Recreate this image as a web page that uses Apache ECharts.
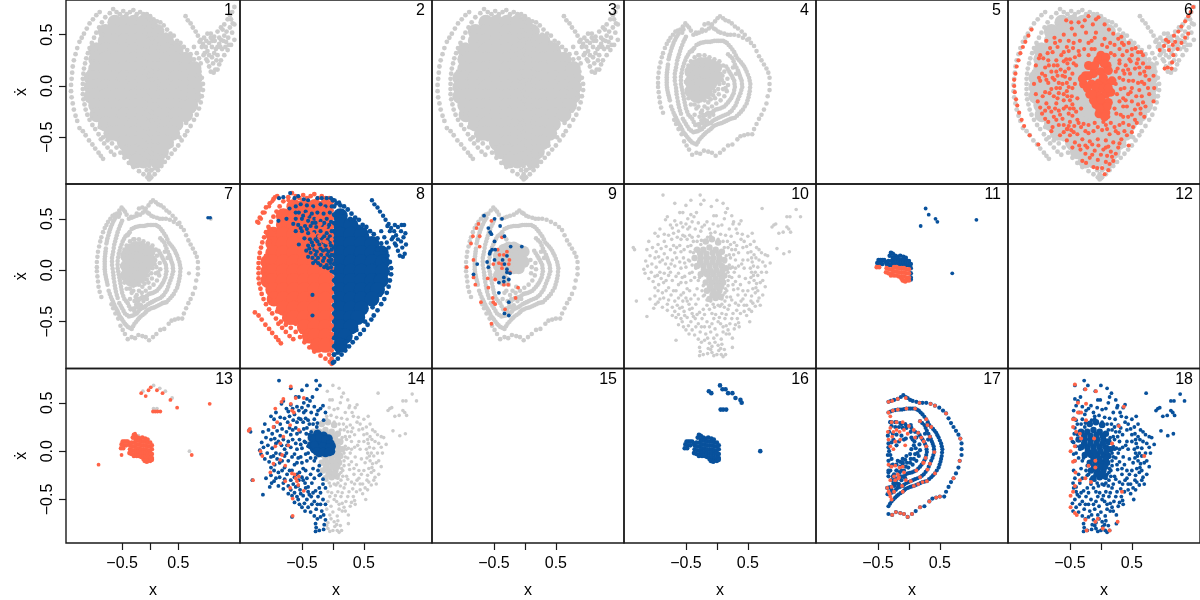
<!DOCTYPE html>
<html>
<head>
<meta charset="utf-8">
<style>html,body{margin:0;background:#fff}#chart{width:1200px;height:600px}</style>
<script src="https://cdn.jsdelivr.net/npm/echarts@6/dist/echarts.min.js"></script>
</head>
<body>
<div id="chart"></div>
<script>
// values, [x, xdot]
const xTicks = [-0.5, 0, 0.5];
const xTickLabels = [-0.5, 0.5];
const yTicks = [-0.5, 0, 0.5];
const panelNames = ['1','2','3','4','5','6','7','8','9','10','11','12','13','14','15','16','17','18'];

// the large filled body: rows of [xdot, x, x, ...]
const blobRows = [
  [.62,-.63,-.46,-.29,-.12],
  [.53,-.80,-.63,-.46,-.29,-.12,.12],
  [.44,-.80,-.63,-.46,-.29,-.12,.12,.29],
  [.35,-.97,-.80,-.63,-.46,-.29,-.12,.12,.29,.46],
  [.26,-.97,-.80,-.63,-.46,-.29,-.12,.12,.29,.46,.63],
  [.17,-.97,-.80,-.63,-.46,-.29,-.12,.12,.29,.46,.63,.78],
  [.08,-1.05,-.97,-.80,-.63,-.46,-.29,-.12,.12,.29,.46,.63,.80],
  [-.01,-1.05,-.97,-.80,-.63,-.46,-.29,-.12,.12,.29,.46,.63,.80],
  [-.10,-1.05,-.97,-.80,-.63,-.46,-.29,-.12,.12,.29,.46,.63,.78],
  [-.19,-.97,-.80,-.63,-.46,-.29,-.12,.12,.29,.46,.63,.72],
  [-.28,-.95,-.80,-.63,-.46,-.29,-.12,.12,.29,.46,.63],
  [-.37,-.80,-.63,-.46,-.29,-.12,.12,.29,.46],
  [-.46,-.70,-.63,-.46,-.29,-.12,.12,.29,.40],
  [-.55,-.46,-.29,-.12,.12,.29],
  [-.64,-.38,-.29,-.12,.12,.20],
  [-.73,-.25,-.12,.12]
];
const blobMiddle = [[0,.6],[0,.5],[0,.4],[0,.3],[0,.2],[0,.1],[0,0],[0,-.1],[0,-.2],[0,-.3],[0,-.4],[0,-.5],[0,-.6],[0,-.7]];
const blobEdge = [
  [-.72,.71],[-.8,.67],[-.86,.62],[-.91,.57],[-.96,.52],[-1,.47],[-1.04,.42],[-1.08,.37],[-1.11,.32],[-1.14,.27],[-1.16,.22],[-1.18,.17],[-1.19,.12],[-1.2,.07],[-1.2,.02],[-1.2,-.03],[-1.2,-.08],[-1.19,-.13],[-1.17,-.18],[-1.15,-.23],[-1.12,-.28],[-1.08,-.33],[-1.03,-.38],[-.98,-.42],[-.92,-.47],[-.84,-.5],[-.76,-.53],[-.68,-.56],[-.6,-.6],[-.53,-.65],[-.46,-.7],[-.38,-.75],[-.3,-.79],[-.2,-.83],[-.12,-.86],[-.05,-.89],[-.02,-.91],
  [-.66,.75],[-.6,.72],[-.54,.7],[-.48,.73],[-.42,.7],[-.36,.72],[-.3,.74],[-.24,.7],[-.18,.72],[-.12,.7],[-.06,.7],[0,.68],[.06,.65],[.12,.63],[.18,.62],[.24,.59],[.3,.55],[.36,.51],[.42,.49],[.48,.44],[.54,.42],[.6,.38],[.66,.35],[.72,.31],[.78,.26],[.84,.2],[.88,.14],[.92,.08],[.94,.02],[.94,-.04],[.92,-.1],[.9,-.16],[.87,-.22],[.83,-.28],[.78,-.33],[.72,-.39],[.66,-.44],[.62,-.48],[.56,-.53],[.5,-.58],[.44,-.62],[.38,-.66],[.32,-.7],[.26,-.74],[.2,-.78],[.14,-.82],[.08,-.86],[.02,-.89],
  [-.86,.5],[-.95,.4],[-1.02,.28],[-1.08,.14],[-1.1,0],[-1.08,-.14],[-1.02,-.28],[-.9,-.4],[-.78,-.47],[-.6,-.52],[-.5,-.6],[-.38,-.68],[-.6,.62],[-.75,.56],[.72,.2],[.82,.1],[.84,-.08],[.76,-.24],[.64,-.36],[.52,-.5],[.38,-.58],[.26,-.66],[.2,-.7],[.02,-.82],[-.06,-.82],[.08,-.8],[.55,.33],[.42,.42],[.28,.5],[.14,.56]
];
const blobSeam = [
  [-.02,.66],[.02,.62],[-.02,.58],[.02,.54],[-.02,.5],[.02,.46],[-.02,.42],[.02,.38],[-.02,.34],[.02,.3],[-.02,.26],[.02,.22],[-.02,.18],[.02,.14],[-.02,.1],[.02,.06],[-.02,.02],[.02,-.02],[-.02,-.06],[.02,-.1],[-.02,-.14],[.02,-.18],[-.02,-.22],[.02,-.26],[-.02,-.3],[.02,-.34],[-.02,-.38],[.02,-.42],[-.02,-.46],[.02,-.5],[-.02,-.54],[.02,-.58],[-.02,-.62],[.02,-.66],[-.02,-.7],[.02,-.74],[-.02,-.78],[.02,-.82],[-.02,-.86],[0,-.9]
];
const arcUpper = [[-.9,.72],[-.96,.69],[-1.02,.65],[-1.08,.61],[-1.13,.56],[-1.18,.51],[-1.22,.47]];
const arcMiddle = [[-1.26,.43],[-1.3,.37],[-1.33,.31],[-1.36,.25],[-1.38,.19],[-1.39,.13],[-1.4,.07],[-1.41,.01],[-1.41,-.05],[-1.4,-.11],[-1.38,-.17],[-1.36,-.23],[-1.33,-.29],[-1.3,-.34]];
const arcLower = [[-1.26,-.41],[-1.2,-.44],[-1.15,-.48],[-1.09,-.53],[-1.03,-.57],[-.98,-.61],[-.92,-.65],[-.88,-.68],[-.84,-.71],[-.88,-.52],[-.82,-.56],[-.76,-.6],[-.7,-.64],[-.64,-.67]];
const blobTail = [
  [.63,.68],[.67,.64],[.72,.61],[.76,.57],[.81,.53],[.85,.49],[.9,.45],[.94,.41],[.99,.38],[1.02,.34],[1.05,.3],[1.02,.24],[1.05,.19],[1.08,.14],[1.13,.13],[1.2,.16],[1.23,.21],[1.26,.25],[1.32,.3],[1.38,.35],[1.44,.4],[1.5,.45],
  [1.5,.77],[1.46,.72],[1.42,.69],[1.38,.65],[1.32,.6],[1.26,.57],[1.2,.53],[1.14,.48],[1.08,.51],[1.02,.51],[1.47,.61],[1.42,.57],[1.36,.53],[1.32,.49],[1.26,.45],[1.2,.38],[1.14,.32],[1.05,.42],[1.1,.38],[1,.44],[.96,.47],[1.46,.52],[1.5,.6],
  [.78,.38],[.83,.32],[.87,.27],[.9,.22],
  [1.11,.44],[1.17,.36],[1.23,.47],[1.29,.55],[1.35,.43],[1.39,.47],[1.44,.65],[1.1,.28],[1.2,.3],[1.25,.38],[1.12,.22],[1.16,.16],[1.3,.44],[1.4,.4],[1.08,.47],[1.15,.44],[1.23,.41],[1.34,.38],[.88,.43],[.92,.38],[.95,.3],[1,.26],[.97,.32],[1.18,.25],[1.28,.36]
];

// orange marks over the body in panel 6
const orangeArc6 = [[-1.12,.55],[-1.17,.49],[-1.22,.43],[-1.26,.38],[-1.3,.32],[-1.33,.25],[-1.36,.19],[-1.38,.12],[-1.4,.06],[-1.4,0],[-1.39,-.06],[-1.37,-.13],[-1.35,-.19],[-1.32,-.26],[-1.28,-.33],[-1.24,-.39],[-1.15,-.48],[-1.01,-.57]];
const orangeTail6 = [[1.49,.77],[1.45,.72],[1.41,.68],[1.36,.63],[1.3,.58],[1.25,.53],[1.18,.49],[1.09,.43],[1.02,.39],[.95,.35],[1.41,.51],[1.36,.47],[1.3,.42],[1.24,.36],[1.17,.3],[1.15,.23],[1.14,.17],[1.03,.17],[1.08,.18],[1.1,.35],[1.16,.4],[1.05,.45],[1.2,.43]];
const orangeBody6 = [
  [-.56,.64],[-.36,.62],[-.2,.68],[-.04,.67],[-.47,.56],[-.3,.58],[-.13,.6],[.06,.6],[-.6,.5],[-.42,.5],[-.24,.52],[-.08,.52],[-.75,.47],[-.88,.44],[-.52,.44],[-.34,.44],[-.15,.44],[.2,.51],[.28,.46],[.22,.4],[-.7,.38],[-.78,.33],[-.6,.33],[-.45,.37],[-.27,.36],[.02,.4],[.1,.38],[.37,.4],[.45,.42],[.56,.37],[.65,.33],[-.93,.27],[-.85,.25],[-.72,.25],[-.6,.24],[-.5,.26],[-.42,.28],[.22,.3],[.35,.3],[.5,.3],[.6,.26],[.68,.22],[-1.05,.2],[-.9,.18],[-.8,.14],[-.65,.16],[-.52,.17],[.27,.17],[.4,.2],[.55,.17],[.63,.12],[.72,.1],
  [-.98,.05],[-.85,.03],[-.75,.06],[-.62,.02],[-.5,.07],[-.42,.02],[.3,.08],[.45,.05],[.6,.03],[.7,.02],[.85,.1],[-.9,-.06],[-.8,-.03],[-.68,-.07],[-.55,-.05],[.32,-.03],[.44,-.08],[.57,-.1],[.66,-.1],[.85,-.15],[-1.02,-.15],[-.88,-.17],[-.72,-.17],[-.6,-.14],[-.46,-.18],[-.38,-.12],[.3,-.15],[.42,-.2],[.55,-.23],[.6,-.18],[.72,-.2],[-.95,-.27],[-.8,-.25],[-.66,-.28],[-.52,-.27],[-.4,-.25],[.12,-.3],[.25,-.27],[.55,-.33],
  [-.85,-.35],[-.72,-.33],[-.6,-.38],[-.5,-.35],[-.38,-.33],[-.28,-.37],[-.1,-.36],[.04,-.35],[.16,-.36],[.3,-.38],[.45,-.38],[.58,-.36],[-.6,-.45],[-.48,-.43],[-.38,-.47],[-.25,-.44],[-.12,-.44],[.02,-.43],[.14,-.47],[.28,-.46],[.38,-.44],[.5,-.45],[-.55,-.53],[-.42,-.55],[-.3,-.52],[-.18,-.54],[-.05,-.52],[.08,-.53],[.2,-.55],[.33,-.52],[.45,-.58],[-.33,-.62],[-.22,-.6],[-.1,-.63],[.04,-.62],[.16,-.64],[.28,-.6],[.18,-.69],[-.3,-.73],[-.18,-.7],[-.05,-.72],[.08,-.74],[.2,-.73],[-.12,-.79],[.02,-.8],[.12,-.82],
  [-.55,-.42],[-.43,-.39],[-.2,-.46],[.1,-.42],[.22,-.4],[-.5,-.48],[-.35,-.58],[-.14,-.57],[.12,-.59],[-.25,-.66],[0,-.67],[.24,-.66],[-.7,.1],[-.58,.09],[-.72,-.02],[-.6,-.22],[-.47,-.1],[.36,-.12],[.5,-.02],[.38,.12],[.48,.24],[.3,.25],[.15,.42],[-.1,.36],[-.2,.3],[-.35,.3],[-.55,.38],[-.4,.2],
  [-.48,.62],[-.26,.64],[-.08,.65],[.13,.55],[.33,.48],[-.66,.44],[-.44,.42],[-.2,.42],[-.1,.47],[.06,.46],[-.82,.37],[-.52,.34],[-.36,.34],[-.15,.36],[.3,.36],[.42,.34],[.6,.33],[.68,.3],[-1,.27],[-.76,.2],[-.56,.26],[-.44,.22],[.16,.32],[.3,.22],[.46,.26],[.58,.22],[.78,.18],[-.95,.12],[-.72,.14],[-.58,.14],[-.46,.12],[.24,.14],[.36,.15],[.47,.12],[.7,.14],[.78,.06],[-1.08,.02],[-.9,.1],[-.68,.03],[-.55,.03],[-.46,-.02],[.24,.02],[.38,-.02],[.52,.05],[.66,.04],[.86,-.02],[-1.05,-.08],[-.76,-.1],[-.6,-.08],[-.5,-.14],[.26,-.08],[.36,-.2],[.5,-.15],[.68,-.16],[.78,-.08],[-.9,-.24],[-.74,-.22],[-.56,-.2],[-.44,-.22],[-.32,-.22],[.22,-.22],[.32,-.28],[.44,-.3],[.64,-.27],[.7,-.3],[-.78,-.4],[-.68,-.38],[-.54,-.42],[-.44,-.45],[-.32,-.4],[-.2,-.38],[-.05,-.4],[.08,-.38],[.24,-.44],[.36,-.36],[.52,-.4],[-.46,-.6],[-.25,-.58],[-.04,-.58],[.08,-.6],[.3,-.56],[-.14,-.67],[.1,-.68],[-.24,-.75],[.14,-.76],[-.06,-.8],[.06,-.86],
  [-.98,.3],[-.86,.32],[-.74,.42],[-.64,.3],[-.54,.22],[-.84,.2],[-.7,.2],[-.62,.1],[-1,.08],[-.88,.06],[-.78,.08],[-.66,-.02],[-.52,-.01],[-.94,-.1],[-.83,-.07],[-.7,-.12],[-.54,-.1],[-.98,-.21],[-.84,-.21],[-.68,-.24],[-.5,-.22],[-.9,-.32],[-.76,-.3],[-.62,-.32],[-.46,-.29],[-.8,-.44],[-.66,-.48],[-.52,-.39],[-.36,-.36],[.34,.42],[.5,.36],[.44,.16],[.62,.18],[.74,.18],[.36,.06],[.48,-.06],[.62,-.04],[.76,-.02],[.4,-.14],[.64,-.22],[.5,-.28],[.36,-.3],[.42,-.48]
];
const orangeCenter6 = [[0,.3],[.08,.28],[-.05,.25],[-.2,.2],[-.12,.18],[.1,.2],[-.25,.1],[-.12,.12],[0,.14],[.12,.15],[-.28,.02],[-.15,.02],[-.03,.03],[.1,.03],[.18,.05],[-.18,-.08],[-.05,-.08],[.08,-.08],[.16,-.06],[-.08,-.18],[.04,-.18],[.12,-.16],[-.03,-.27],[.08,-.26],[-.2,.1],[-.3,.07],[.05,.22],[-.1,.2],[.04,.08],[-.08,-.02],[.04,-.02],[-.12,-.14],[0,-.13],[.1,-.2],[-.02,-.22],[.06,-.3],[.12,-.02],[-.22,-.02],[-.14,-.08]];

// panel 8: marks laid over the split body
const blue8 = [
  [-.69,.75],[-.8,.71],[-.87,.7],[-.62,.7],[-.56,.72],[-.47,.69],[-.4,.68],[-.25,.7],[-.18,.7],[-.1,.7],[-.03,.7],[.03,.68],[.1,.66],[-.6,.62],[-.52,.64],[-.42,.63],[-.32,.62],[-.2,.64],[-.12,.62],[-.02,.62],[-.55,.56],[-.44,.57],[-.34,.55],[-.25,.56],[-.15,.55],[-.05,.56],[-.88,.48],[-.6,.5],[-.5,.5],[-.4,.48],[-.3,.5],[-.2,.48],[-.1,.5],[-.03,.47],[-.56,.44],[-.45,.43],[-.36,.43],[-.27,.42],[-.17,.44],[-.08,.42],[-.6,.38],[-.5,.38],[-.4,.36],[-.3,.37],[-.2,.38],[-.1,.36],[-.02,.38],[-.46,.31],[-.37,.3],[-.28,.3],[-.18,.31],[-.08,.3],[-.55,.25],[-.4,.24],[-.32,.24],[-.22,.25],[-.12,.24],[-.03,.24],[-.43,.19],[-.36,.17],[-.26,.18],[-.16,.19],[-.07,.18],[-.4,.13],[-.33,.12],[-.24,.12],[-.14,.12],[-.05,.13],[-.32,.07],[-.2,.05],[-.1,.05],[-.04,.07],[-.08,.02],[-.33,-.24],[-.33,-.44],
  [-.48,.53],[-.38,.52],[-.28,.46],[-.14,.46],[-.06,.44],[-.52,.41],[-.42,.4],[-.33,.46],[-.24,.33],[-.14,.33],[-.05,.33],[-.34,.27],[-.25,.28],[-.15,.27],[-.05,.27],[-.38,.21],[-.3,.2],[-.2,.21],[-.11,.2],[-.02,.2],[-.28,.15],[-.19,.15],[-.09,.15],[-.02,.15],[-.28,.09],[-.16,.09],[-.07,.09],[-.02,.1],[-.24,.07],[-.14,.03],[-.03,.03],[-.02,-.01],[-.6,.56],[-.7,.6],[-.64,.45],[-.75,.5]
];
const orange8 = [[-.94,.71],[-.98,.67],[-1.03,.62],[-1.1,.56],[-1.16,.5],[-1.2,.46],[-.72,.68],[-.52,.6],[-.36,.6],[-.25,.5],[-.15,.6],[-.42,.54],[-.12,.42],[-.32,.35],[-.2,.45],[-.22,.33],[-.1,.27],[-.02,.3],[-.27,.22],[-.14,.28]];

// the nested loops of panels 4, 7, 9, 17
const loops = [
  [-.87,-.26],[-.9,-.21],[-.92,-.16],[-.93,-.11],[-.94,-.06],[-.95,-.01],[-.95,.03],[-.95,.08],[-.94,.13],[-.93,.18],[-.91,.23],[-.89,.28],[-.87,.32],[-.84,.37],[-.81,.41],[-.78,.44],[-.75,.47],[-.71,.5],[-.67,.53],[-.63,.54],[-.59,.55],[-.55,.58],[-.51,.61],[-.48,.59],[-.45,.57],[-.42,.54],[-.38,.5],[-.33,.51],[-.29,.52],[-.24,.53],[-.18,.54],[-.13,.56],[-.09,.58],[-.05,.56],[-.02,.55],[.02,.53],[.06,.52],[.12,.51],[.17,.5],[.22,.5],[.28,.5],[.35,.49],[.42,.47],[.49,.45],[.55,.42],[.6,.39],[.64,.34],[.68,.29],[.72,.25],[.76,.21],[.8,.17],[.83,.13],[.85,.08],[.85,.02],[.85,-.04],[.82,-.1],[.8,-.17],[.76,-.23],[.72,-.28],[.68,-.32],[.64,-.37],[.6,-.42],[.57,-.47],[.5,-.47],[.44,-.48],[.38,-.49],[.33,-.52],[.25,-.57],[.18,-.58],[.11,-.62],[.05,-.65],[-.02,-.68],[-.08,-.65],[-.14,-.64],[-.21,-.63],[-.27,-.66],[-.33,-.65],[-.4,-.67],[-.45,-.62],[-.49,-.58],[-.53,-.54],[-.57,-.47],[-.62,-.42],[-.66,-.37],[-.69,-.33],
  [-.76,-.14],[-.78,-.09],[-.8,-.04],[-.81,.01],[-.81,.06],[-.81,.11],[-.8,.16],[-.79,.21],[-.78,.26],[-.76,.31],[-.73,.37],[-.7,.42],[-.66,.47],[-.62,.51],[-.74,-.2],[-.7,-.26],[-.66,-.31],[-.62,-.36],[-.58,-.4],[-.54,-.45],[-.5,-.48],[-.45,-.52],[-.4,-.55],[-.33,-.57],[-.28,-.52],[-.22,-.48],[-.17,-.45],[-.1,-.42],[-.05,-.39],[.02,-.37],[.08,-.36],[.15,-.34],[.22,-.32],[.29,-.31],[.36,-.27],[.42,-.23],[.48,-.17],[.51,-.11],[.53,-.05],[.54,.02],[.52,.08],[.48,.14],[.44,.19],[.39,.23],[.33,.27],[.28,.33],[.22,.38],[.16,.42],[.1,.44],[.03,.44],[-.04,.44],[-.11,.43],[-.18,.43],[-.26,.42],[-.33,.4],[-.4,.34],[-.3,.3],
  [-.58,-.27],[-.61,-.21],[-.63,-.15],[-.65,-.08],[-.66,-.02],[-.68,.05],[-.68,.12],[-.66,.18],[-.64,.25],[-.61,.31],[-.58,.37],[-.54,.43],[-.5,.48],[-.55,-.32],[-.5,-.37],[-.45,-.42],[-.38,-.45],[-.31,-.44],[-.24,-.42],[-.18,-.38],[-.11,-.36],[-.04,-.33],[.03,-.31],[.1,-.29],[.18,-.27],[.24,-.24],[.3,-.19],[.34,-.13],[.38,-.07],[.41,-.01],[.4,.05],[.37,.1],[.34,.15],[.29,.21],[.25,.27],[.18,.31],
  [-.52,-.16],[-.54,-.1],[-.56,-.04],[-.58,.02],[-.58,.09],[-.56,.16],[-.53,.22],[-.49,.28],[-.44,.33],[-.38,.36],[-.5,-.22],[-.46,-.28],[-.4,-.32],[-.35,-.38],[-.28,-.37],[-.22,-.3],[-.16,-.27],[-.09,-.26],[-.02,-.23],[.05,-.22],[.12,-.2],[.18,-.16],[.23,-.12],[.27,-.07],[.29,-.01],[.28,.05],[.24,.1],[.2,.14],[.15,.19],
  [.17,.07],[.18,.01],[.16,-.05],[.12,-.1],[.06,-.14],[-.01,-.17],[.09,.1],[.11,.03],[.1,-.03],[.26,.18],[.31,.12],
  [-.28,-.3],[-.24,-.24],[-.2,-.2],[-.14,-.16],[-.3,-.2],[-.26,-.14],[-.22,-.28],[-.18,-.34],[-.12,-.3],[-.06,-.28],[-.15,-.22],[-.08,-.2],[-.36,-.28],[-.33,-.22],[-.28,-.4],[-.23,-.36],
  [-.77,-.115],[-.79,-.065],[-.805,-.015],[-.81,.035],[-.81,.085],[-.805,.135],[-.795,.185],[-.77,.285],[-.745,.34],[-.715,.395],[-.68,.445],[-.64,.49],[-.72,-.23],[-.68,-.285],[-.64,-.335],[-.6,-.38],[-.56,-.425],[-.52,-.465],[-.475,-.5],[-.425,-.535],[-.365,-.56],[-.305,-.545],[-.25,-.5],[-.195,-.465],[-.135,-.435],[-.075,-.405],[-.015,-.38],[.05,-.365],[.115,-.35],[.185,-.33],[.255,-.315],[.325,-.29],[.39,-.25],[.45,-.2],[.495,-.14],[.52,-.08],[.535,-.015],[.53,.05],[.5,.11],[.46,.165],[.415,.21],[.36,.25],[.305,.3],[.25,.355],[.19,.4],[.13,.43],[.065,.44],[0,.44],[-.075,.435],[-.145,.43],[-.22,.425],[-.295,.41],[-.365,.37],
  [-.595,-.24],[-.62,-.18],[-.64,-.115],[-.655,-.05],[-.67,.015],[-.68,.085],[-.67,.15],[-.65,.215],[-.625,.28],[-.595,.34],[-.56,.4],[-.52,.455],[-.525,-.345],[-.475,-.395],[-.415,-.435],[-.345,-.445],[-.275,-.43],[-.21,-.4],[-.145,-.37],[-.075,-.345],[-.005,-.32],[.065,-.3],[.14,-.28],[.21,-.255],[.27,-.215],[.32,-.16],[.36,-.1],[.395,-.04],[.405,.02],[.385,.075],[.355,.125],[.315,.18],[.27,.24],[.215,.29],
  [-.53,-.13],[-.55,-.07],[-.57,-.01],[-.58,.055],[-.57,.125],[-.545,.19],[-.51,.25],[-.465,.305],[-.41,.345],[-.51,-.19],[-.48,-.25],[-.43,-.3],[-.375,-.35],[-.315,-.375],[-.25,-.335],[-.19,-.285],[-.125,-.265],[-.055,-.245],[.015,-.225],[.085,-.21],[.15,-.18],[.205,-.14],[.25,-.095],[.28,-.04],[.285,.02],[.26,.075],[.22,.12],[.175,.165]
];
const loopsCentre = [[-.42,.14],[-.42,.04],[-.42,-.05],[-.34,.2],[-.34,.1],[-.34,0],[-.34,-.1],[-.26,.22],[-.26,.12],[-.26,.02],[-.26,-.08],[-.18,.22],[-.18,.12],[-.18,.02],[-.18,-.06],[-.1,.2],[-.1,.1],[-.1,.02],[-.02,.18],[-.02,.08]];
const loopsInner = [[-.46,.2],[-.48,.12],[-.5,.04],[-.48,-.04],[-.46,-.12],[-.42,-.18],[-.36,-.18],[-.3,-.15],[-.42,.24],[-.36,.28],[-.28,.3],[-.2,.3],[-.12,.28],[-.04,.26],[.04,.24],[.1,.2],[.12,.14],[.06,.12],[.08,.06],[.04,.02],[.02,-.03],[-.04,-.05],[-.06,-.09],[-.1,-.08],[-.14,-.11],[.14,-.02],[.03,-.08],[-.03,-.12],[-.1,-.13],[-.2,-.14],[-.16,-.34],[-.1,-.36],[-.26,-.26],[-.2,-.33],[-.14,-.26]];
const loopsTop = [[-.34,.52],[-.24,.55],[-.2,.6],[-.14,.61],[-.08,.6],[-.03,.63],[.01,.66],[.05,.68],[.1,.66],[.14,.64],[.19,.63],[.24,.61],[.29,.58],[.34,.56],[.4,.53],[.45,.5],[.52,.46],[-.54,.55],[-.56,.52]];
const blue7 = [[1.03,.51],[1.07,.51]];
const grey7 = [[.69,-.03],[1.08,.5]];

const blue9 = [[-.66,.53],[-.49,.5],[-.37,.5],[-.4,.43],[-.59,.41],[-.56,.37],[-.54,.35],[-.33,.33],[-.49,.28],[-.23,.23],[-.05,.23],[-.53,.2],[-.56,.18],[-.57,.16],[-.48,.2],[-.29,.14],[-.36,.1],[-.49,.1],[-.61,.08],[-.77,.06],[-.59,.03],[-.33,.06],[-.29,.01],[-.29,-.02],[-.24,-.03],[-.83,-.04],[-.34,-.07],[-.26,-.09],[-.34,-.11],[-.42,-.12],[-.42,-.22],[-.26,-.31],[-.33,-.42],[-.26,-.44]];
const orange9 = [[-.54,.48],[-.75,.45],[-.78,.41],[-.84,.33],[-.73,.33],[-.37,.32],[-.87,.26],[-.73,.23],[-.44,.2],[-.41,.15],[-.34,.15],[-.29,.18],[-.51,.06],[-.83,.1],[-.94,.03],[-.42,.07],[-.37,.06],[-.25,.1],[-.37,.02],[-.26,.06],[-.24,-.02],[-.83,-.07],[-.6,-.08],[-.48,-.09],[-.8,-.14],[-.59,-.17],[-.34,-.14],[-.27,-.14],[-.11,-.17],[-.15,-.27],[-.52,-.27],[-.51,-.31],[-.71,-.31],[-.48,-.33],[-.32,-.38],[-.54,-.52]];

// the point cloud shared by panels 10, 14, 18
const cloud = [
  [-.87,.73],[-.68,.65],[-.27,.73],[-.5,.63],[-.42,.68],[-.21,.68],[-.26,.64],[-.09,.62],[0,.68],[.1,.65],[.17,.6],[.73,.6],[1.28,.59],[1.35,.52],[1.13,.52],[.92,.44],[.89,.42],[1,.36],[1.13,.42],[1.19,.37],[.97,.21],[1.08,.16],[1.17,.18],[.95,.45],[1.07,.37],[1.16,.4],[1.18,.52],
  [-.8,.52],[-.83,.49],[-.6,.56],[-.55,.56],[-.42,.54],[-.37,.52],[-.33,.56],[-.05,.53],[-.01,.53],[.14,.56],[.24,.53],[.27,.47],[.36,.45],[.39,.48],[-.68,.48],[-.65,.44],[-.58,.46],[-.47,.5],[-.4,.47],[-.2,.44],[-.06,.45],[.02,.43],[.2,.4],[.26,.45],
  [-.92,.4],[-1,.36],[-.95,.33],[-.72,.41],[-.62,.38],[-.55,.42],[-.47,.4],[-.35,.4],[-.26,.38],[-.12,.4],[-.03,.37],[.14,.34],[.23,.33],[.41,.35],[.44,.28],[.57,.36],[.6,.28],[.54,.25],[.32,.24],
  [-1.1,.28],[-1.04,.22],[-1.35,.22],[-1.33,.2],[-.85,.28],[-.73,.3],[-.64,.32],[-.55,.34],[-.48,.3],[-.4,.32],[-.3,.33],[-.15,.32],[.17,.28],[.28,.27],[.48,.23],[.64,.22],[.72,.17],[.78,.15],[.55,.18],[.63,.12],[.35,.17],[.24,.2],
  [-1.13,.2],[-.98,.18],[-.85,.16],[-.75,.2],[-.68,.17],[-.6,.24],[-.53,.2],[-.47,.23],[.22,.12],[.3,.1],[.42,.1],[.57,.08],[.59,.04],[.62,-.02],[.68,.1],[.82,.14],[.86,.07],
  [-1.15,.09],[-1.12,.04],[-1.18,.01],[-1.16,-.03],[-1.05,.06],[-.98,.03],[-.92,.08],[-.83,.06],[-.8,.12],[-.72,.1],[-.68,.04],[-.6,.08],[-.54,.12],[-.5,.03],[.25,.03],[.35,.04],[.44,.02],[.59,-.05],[.66,-.05],[.72,-.02],[.78,.04],
  [-1.1,-.08],[-1.03,-.11],[-.96,-.05],[-.92,-.02],[-.85,-.03],[-.78,-.05],[-.72,-.1],[-.62,-.03],[-.56,-.07],[-.5,-.12],[.24,-.07],[.3,-.11],[.38,-.14],[.52,-.12],[.6,-.1],[.63,-.17],[.7,-.12],[.78,-.16],
  [-1,-.17],[-.94,-.14],[-.86,-.12],[-.78,-.17],[-.7,-.2],[-.62,-.14],[-.54,-.22],[-.48,-.18],[-.42,-.28],[.16,-.2],[.27,-.19],[.34,-.24],[.42,-.2],[.5,-.2],[.56,-.25],[.62,-.22],[.68,-.27],[.74,-.24],
  [-1.08,-.28],[-1,-.25],[-.95,-.31],[-.86,-.27],[-.78,-.29],[-.68,-.3],[-.62,-.27],[-.55,-.3],[-.45,-.33],[-.34,-.33],[-.22,-.38],[.05,-.35],[.13,-.3],[.2,-.34],[.3,-.32],[.39,-.3],[.48,-.34],[.55,-.3],[.62,-.35],[.7,-.34],
  [-1.3,-.3],[-1.02,-.37],[-.99,-.33],[-.88,-.36],[-.8,-.39],[-.68,-.4],[-.6,-.37],[-.53,-.4],[-.44,-.38],[-.38,-.45],[-.28,-.41],[-.12,-.38],[-.02,-.43],[.08,-.42],[.18,-.38],[.26,-.42],[.32,-.39],[.44,-.4],[.52,-.38],[.56,-.4],
  [-1.13,-.45],[-.66,-.46],[-.58,-.47],[-.52,-.44],[-.42,-.5],[-.35,-.47],[-.24,-.47],[-.16,-.5],[-.05,-.47],[.02,-.5],[.13,-.47],[.21,-.52],[.33,-.47],[.35,-.51],[.53,-.5],
  [-.62,-.53],[-.54,-.55],[-.46,-.54],[-.34,-.55],[-.25,-.55],[-.12,-.55],[-.03,-.57],[.1,-.55],[.18,-.58],[.28,-.57],[.36,-.55],[-.66,-.68],[-.45,-.62],[-.36,-.63],[-.27,-.6],[-.18,-.62],[-.1,-.6],[0,-.63],[.07,-.67],[.15,-.62],[.25,-.66],
  [-.3,-.67],[-.2,-.68],[-.12,-.71],[-.03,-.7],[.02,-.73],[.08,-.72],[.25,-.75],[-.28,-.75],[-.27,-.79],[-.14,-.76],[-.08,-.74],[.03,-.78],[.07,-.82],[-.22,-.82],[-.15,-.81],[-.08,-.8],[0,-.82],[.14,-.82],
  [-.32,.28],[.02,.3],[.1,.28],[.18,.22],[.15,.14],[.2,.05],[.18,-.02],[.18,-.1],[.13,-.22],[.08,-.28],[-.1,-.3],[-.22,-.25],[-.32,-.18],[-.42,-.1],[-.4,.05],[-.35,.2],[.13,.08],
  [-.75,.44],[-.5,.45],[-.44,.42],[-.3,.46],[-.16,.47],[-.24,.42],[.08,.44],[.12,.5],[.31,.4],[.33,.36],[-.85,.35],[-.78,.34],[-.7,.36],[-.58,.3],[-.52,.33],[-.44,.34],[-.38,.28],[-.25,.29],[-.1,.33],[.06,.35],[.22,.25],[.39,.3],[.5,.33],
  [-.95,.25],[-.9,.21],[-.82,.23],[-.7,.24],[-.65,.22],[-.58,.18],[-.43,.18],[.27,.15],[.3,.2],[.42,.22],[.5,.17],[.6,.15],[.68,.2],[.56,.12],[.74,.08],
  [-1.08,.14],[-1,.12],[-.94,.13],[-.88,.1],[-.78,.02],[-.74,.06],[-.65,.12],[-.58,.02],[-.52,.07],[-.46,.1],[.3,.02],[.4,.06],[.5,.1],[.54,.02],[.56,-.02],[.66,.03],[.8,-.02],
  [-1.06,-.02],[-1,-.06],[-.9,-.08],[-.82,-.1],[-.75,-.02],[-.66,-.06],[-.58,-.12],[-.52,-.06],[-.44,-.03],[.28,-.02],[.36,-.06],[.46,-.08],[.55,-.07],[.64,-.13],[.74,-.1],
  [-.95,-.2],[-.88,-.22],[-.82,-.2],[-.74,-.24],[-.66,-.2],[-.58,-.24],[-.5,-.27],[-.44,-.2],[-.36,-.24],[.22,-.26],[.26,-.14],[.34,-.18],[.42,-.28],[.46,-.24],[.58,-.18],[.66,-.2],
  [-.92,-.28],[-.8,-.33],[-.72,-.36],[-.64,-.34],[-.56,-.36],[-.48,-.3],[-.4,-.37],[-.3,-.28],[-.16,-.34],[-.04,-.36],[.12,-.36],[.24,-.29],[.35,-.34],[.44,-.34],[.58,-.32],[.66,-.3],
  [-.72,-.44],[-.62,-.43],[-.48,-.46],[-.4,-.42],[-.32,-.43],[-.2,-.43],[-.08,-.42],[.04,-.46],[.15,-.43],[.24,-.47],[.38,-.42],[.48,-.44],
  [-.56,-.5],[-.5,-.58],[-.4,-.58],[-.3,-.52],[-.2,-.55],[-.08,-.52],[.06,-.52],[.15,-.54],[.3,-.53],[.2,-.62],[.1,-.6],[-.05,-.66],[-.15,-.66],[-.25,-.7],[-.1,-.77],[.06,-.76],[.12,-.77],[-.05,-.83],[.1,-.84],[-.28,-.83],
  [-.42,.24],[-.38,.17],[-.44,.09],[-.4,-.02],[-.36,-.07],[-.3,-.1],[-.26,.25],[-.1,.36],[.12,.22],[.2,.15],[.22,.02],[.2,-.06],[.18,-.15],[.14,-.18],[-.22,-.15],[-.2,-.24],[-.16,-.29],[.1,-.24],[-.06,-.33],[.02,-.34],[.08,-.33],[-.28,-.07],[-.34,.02],[.16,-.26],[-.24,-.2]
];
const cloudCentre = [[-.18,.28],[-.08,.3],[.02,.27],[-.32,.2],[-.22,.2],[-.12,.22],[-.02,.2],[.08,.18],[-.36,.12],[-.26,.12],[-.16,.12],[-.06,.12],[.04,.12],[.12,.1],[-.32,.04],[-.22,.04],[-.12,.04],[-.02,.04],[.08,.04],[.15,.02],[-.26,-.04],[-.16,-.04],[-.06,-.04],[.04,-.04],[.12,-.05],[-.18,-.12],[-.08,-.12],[.02,-.12],[.1,-.12],[-.16,-.2],[-.06,-.2],[.04,-.2],[-.12,-.28],[-.02,-.27],[.06,-.26],[-.27,.16],[-.17,.16],[-.07,.17],[.03,.16],[-.27,.08],[-.17,.08],[-.07,.08],[.03,.08],[-.21,0],[-.11,0],[-.01,0],[.09,0],[-.12,-.08],[-.02,-.08],[.08,-.08],[-.11,-.16],[-.01,-.16],[.07,-.16],[-.07,-.24],[.02,-.23]];
const blueCentre14 = [[-.34,.14],[-.25,.18],[-.15,.16],[-.07,.13],[-.35,.06],[-.26,.09],[-.17,.09],[-.08,.08],[-.02,.05],[-.3,.02],[-.2,.02],[-.1,.01],[-.03,0],[-.22,-.02],[-.12,-.02],[-.3,.12],[-.22,.14],[-.12,.12],[-.04,.08],[-.3,.06],[-.16,.05],[-.06,.04],[-.26,0],[-.16,-.01],[-.07,-.01]];
const orange14 = [[-1.34,.23],[-1.36,.21],[-1.29,-.3],[-.68,.67],[-.8,.54],[-.83,.51],[-.93,.44],[-.6,.55],[-.47,.55],[-.68,.49],[-.66,.42],[-.63,.4],[-.96,.25],[-.9,.3],[-.69,.27],[-.55,.22],[-.8,.15],[-.85,.08],[-.93,.05],[-.72,.06],[-1.17,0],[-1.14,-.05],[-.82,-.04],[-.85,-.09],[-.96,-.13],[-.77,-.15],[-.66,-.23],[-.58,-.31],[-.55,-.26],[-.69,-.38],[-.77,-.31],[-1.01,-.22],[-.65,-.49],[-.47,-.41],[-.65,-.67],[-.6,-.28],[-.62,-.24],[-.56,-.35]];
const orange18 = [[-.42,.69],[-.25,.64],[-.08,.62],[-.37,.5],[-.24,.49],[-.37,.4],[-.32,.4],[-.45,.33],[-.42,.33],[-.24,.32],[-.45,.25],[-.4,.2],[-.34,.18],[-.48,.13],[-.32,.13],[-.11,.13],[.18,.08],[-.42,.05],[-.49,0],[-.42,-.1],[-.45,-.11],[-.09,-.1],[-.2,-.15],[-.09,-.17],[-.41,-.22],[-.34,-.3],[-.25,-.28],[-.42,-.36],[-.45,-.42],[-.49,-.46],[-.16,-.32],[.34,-.42],[.7,-.05],[.37,.46],[.29,.26],[-.49,-.58],[-.42,-.64],[-.39,-.66],[-.25,-.71],[-.09,-.73],[-.05,-.7],[.27,-.73],[-.23,-.82],[.14,-.82],[.03,-.8]];

// the small cluster shared by panels 11, 13, 16
const cluster = [
  [-.52,.03],[-.51,.07],[-.49,.1],[-.46,.1],[-.43,.1],[-.4,.1],[-.37,.08],[-.47,.06],[-.43,.06],[-.48,.03],[-.29,.17],[-.26,.16],[-.31,.14],[-.26,.12],[-.22,.14],[-.18,.13],[-.14,.14],[-.09,.13],[-.05,.12],
  [-.36,.06],[-.36,.02],[-.37,-.02],[-.33,.09],[-.32,.05],[-.32,.01],[-.33,-.03],[-.28,.09],[-.28,.05],[-.28,.01],[-.28,-.03],[-.29,-.05],[-.24,.11],[-.24,.07],[-.24,.03],[-.24,-.01],[-.24,-.05],[-.2,.11],[-.2,.07],[-.2,.03],[-.2,-.01],[-.2,-.05],[-.16,.1],[-.16,.06],[-.16,.02],[-.16,-.02],[-.16,-.06],[-.12,.1],[-.12,.06],[-.12,.02],[-.12,-.02],[-.12,-.06],[-.12,-.08],[-.08,.1],[-.08,.06],[-.08,.02],[-.08,-.02],[-.08,-.06],[-.08,-.1],[-.04,.09],[-.04,.05],[-.04,.01],[-.04,-.03],[-.04,-.07],[-.04,-.1],[0,.09],[0,.05],[0,.01],[0,-.03],[0,-.07],[0,-.1],[.03,.06],[.03,.02],[.03,-.03],[.03,-.07],[.03,-.09],[-.1,-.1],[-.06,-.11]
];
const arc13 = [[-.16,.6],[-.08,.57],[-.03,.63],[.01,.66],[.12,.63],[.22,.6],[.36,.53],[.48,.45],[1.06,.49],[.05,.41],[.09,.41],[.13,.41],[.18,.41],[-.92,-.14],[.74,-.04],[-.51,-.04],[-.27,.18]];
const grey13 = [[-.13,.62],[.06,.68],[.17,.65],[.27,.62],[.39,.55],[.06,.44],[.12,.44],[.7,0],[-.21,.16],[-.03,.12]];
const arc16 = [[-.13,.62],[-.09,.6],[.05,.68],[.09,.64],[.14,.64],[.18,.6],[.25,.6],[.3,.55],[.38,.53],[.4,.5],[.06,.43],[.1,.43],[.15,.43],[.7,0]];
const blueFar11 = [[.27,.6],[.32,.54],[.43,.5],[.46,.47],[.19,.43],[1.09,.49],[.7,-.03]];

const orange17 = [[-.33,.51],[-.27,.52],[-.18,.54],[-.05,.55],[.17,.5],[.35,.49],[.42,.47],[.6,.39],[.83,.13],[.82,-.1],[.72,-.28],[.5,-.47],[.44,-.48],[.33,-.52],[.18,-.58],[.05,-.65],[-.02,-.68],[-.08,-.65],[-.14,-.64],[-.21,-.63],[-.27,-.66],[-.33,-.42],[-.3,-.47],[-.28,-.5],[-.33,.4],[-.3,.36],[-.26,.42],[-.18,.43],[-.04,.44],[.1,.44],[.3,.27],[.42,-.23],[.22,-.32],[.08,-.36],[-.1,-.42],[-.17,-.28],[-.05,-.3],[.12,-.2],[.24,-.12],[-.3,.24],[-.25,.2],[-.2,.22],[-.15,.2],[-.08,.22],[-.02,.18],[.1,.14],[-.33,.12],[-.27,.15],[-.22,.1],[-.14,.12],[-.06,.06],[-.3,.05],[-.25,.02],[-.33,-.14],[-.28,-.16],[-.22,-.15],[-.15,-.17],[-.1,-.16],[-.3,-.3],[-.24,-.26],[-.18,-.24],[-.08,-.22],
  [-.2,.3],[-.1,.3],[0,.26],[.08,.22],[.18,.31],[.28,.33],[.36,.25],[.34,.15],[.41,-.01],[.34,-.13],[.3,-.19],[.18,-.27],[.03,-.31],[-.11,-.36],[-.24,-.42],[-.31,-.44],[.15,-.34],[.29,-.31],[-.22,-.3],[-.16,-.27],[-.28,-.37],[-.35,-.38],[-.34,.2],[-.28,.3],[.15,.19],[.2,.14],[.24,.1],[.28,.05],[.27,-.07],[.23,-.12]
];
const blue17Extra = [[-.28,.26],[-.22,.25],[-.16,.25],[-.1,.24],[-.04,.24],[.03,.2],[-.32,.2],[-.26,.18],[-.2,.17],[-.12,.16],[-.05,.13],[-.33,.08],[-.28,.09],[-.2,.06],[-.32,0],[-.3,-.04],[-.28,-.08],[-.33,-.1],[.02,-.12],[.08,-.08],[-.18,-.1],[-.1,-.12],[-.3,.3],[-.22,.3],[-.14,.29],[-.06,.28],[.03,.27],[-.34,.16],[-.33,.04],[-.34,-.04],[-.25,.12],[-.16,.1],[-.08,.12],[.04,.14],[-.2,-.2],[-.12,-.2],[-.05,-.16],[-.33,-.2],[-.33,-.26]];

const GREY = '#CCCCCC', ORANGE = '#FF6347', BLUE = '#08519C';
const DOT = 4.2;

const blobCore = blobRows.flatMap(([y, ...xs]) => xs.map(x => [x, y]));
const blobAll = [].concat(arcUpper, arcMiddle, arcLower, blobEdge, blobSeam, blobTail);
const neg = p => p[0] < 0, pos = p => p[0] >= 0;
const blobLayers = [[blobCore.concat(blobMiddle), GREY, 15], [blobAll, GREY, DOT + .6]];

const loops9 = [[loops, GREY, DOT + .4], [loopsCentre.filter(p => p[1] > 0 || p[0] < -.3), GREY, 12]];
const loops47 = [[loops.concat(loopsInner), GREY, DOT + .4], [loopsTop, GREY, DOT + .4], [loopsCentre, GREY, 13]];
const cloudGrey = [[cloud, GREY, 3.6], [cloudCentre, GREY, 6.5]];

// what each panel shows, drawn bottom to top: [points, colour, size]
const panelLayers = {
  1: blobLayers,
  3: blobLayers,
  4: loops47,
  6: blobLayers.concat([[orangeArc6.concat(orangeTail6, orangeBody6), ORANGE, DOT], [orangeCenter6, ORANGE, 9]]),
  7: loops47.concat([[grey7, GREY, DOT], [blue7, BLUE, 3.6]]),
  8: [
    [blobCore.filter(neg), ORANGE, 15],
    [blobCore.filter(pos), BLUE, 15],
    [blobEdge.concat(blobSeam, arcUpper, arcLower).filter(neg), ORANGE, DOT + .6],
    [blobEdge.concat(blobSeam).filter(pos), BLUE, DOT + .6],
    [blobTail.filter(p => p[0] < 1.2 && p[1] < .7 && (p[0] < .9 || p[1] < .46)), BLUE, DOT + .2],
    [blue8, BLUE, DOT],
    [orange8, ORANGE, DOT]
  ],
  9: loops9.concat([[orange9, ORANGE, 3.8], [blue9, BLUE, 3.8]]),
  10: cloudGrey,
  11: [[blueFar11, BLUE, 3.8], [cluster.filter(p => p[1] > .04 || p[0] > .01), BLUE, 4.6], [cluster.filter(p => p[1] <= .04 && p[0] <= .01), ORANGE, 4.6]],
  13: [[grey13, GREY, 3.8], [cluster, ORANGE, 4.6], [arc13, ORANGE, 3.8]],
  14: cloudGrey.concat([[cloud.filter(p => p[0] < -.1), BLUE, 3.8], [orange14, ORANGE, 3.8], [blueCentre14, BLUE, 8.5]]),
  16: [[cluster.concat(arc16), BLUE, 4.6]],
  17: [[loops.concat(loopsInner, blue17Extra).filter(p => p[0] > -.36), BLUE, 4.2], [orange17, ORANGE, 3.8]],
  18: [[cloud.filter(p => p[0] > -.47), BLUE, 3.8], [cloudCentre, BLUE, 6.5], [orange18, ORANGE, 4]]
};

const lefts = [66, 240, 432, 624, 816, 1008];
const widths = [174, 192, 192, 192, 192, 192];
const tops = [0, 184, 368.5];
const heights = [184, 184.5, 178];

const grid = [], xAxis = [], yAxis = [], title = [], series = [];
const FONT = '"Liberation Sans", Arial, sans-serif';
const minus = v => (v < 0 ? '\u2212' : '') + Math.abs(v).toFixed(1);

panelNames.forEach((name, i) => {
  const col = i % 6, row = Math.floor(i / 6);
  const onLeft = col === 0, onBottom = row === 2;
  grid.push({left: lefts[col], top: tops[row], width: widths[col], height: heights[row],
    show: true, borderColor: '#1a1a1a', borderWidth: 1.4, backgroundColor: 'transparent'});
  xAxis.push({
    type: 'value', gridIndex: i, min: -1.5, max: 1.6, position: 'bottom',
    name: onBottom ? 'x' : '', nameLocation: 'middle', nameGap: 40,
    nameTextStyle: {color: '#000', fontFamily: FONT, fontSize: 16},
    splitLine: {show: false}, axisLine: {show: false, onZero: false},
    axisTick: {show: onBottom, length: 7, customValues: xTicks, lineStyle: {color: '#1a1a1a', width: 1.2}},
    axisLabel: {show: onBottom, customValues: xTickLabels, margin: 13, color: '#000',
      fontFamily: FONT, fontSize: 16, formatter: minus}
  });
  yAxis.push({
    type: 'value', gridIndex: i, min: row === 2 ? -.95 : -.955, max: row === 2 ? .855 : .838, position: 'left',
    name: onLeft ? 'ẋ' : '', nameLocation: 'middle', nameGap: 36, nameRotate: 90,
    nameTextStyle: {color: '#000', fontFamily: FONT, fontSize: 16},
    splitLine: {show: false}, axisLine: {show: false, onZero: false},
    axisTick: {show: onLeft, length: 7, customValues: yTicks, lineStyle: {color: '#1a1a1a', width: 1.2}},
    axisLabel: {show: onLeft, customValues: yTicks, rotate: 90, margin: 10, color: '#000',
      fontFamily: FONT, fontSize: 16, formatter: minus}
  });
  title.push({text: name, right: 1200 - lefts[col] - widths[col] + 7, top: tops[row] + 3,
    padding: 0, textStyle: {color: '#000', fontFamily: FONT, fontSize: 16, fontWeight: 'normal'}});
  (panelLayers[name] || []).forEach(([data, color, size]) => {
    series.push({type: 'scatter', xAxisIndex: i, yAxisIndex: i, data: data, symbolSize: size,
      itemStyle: {color: color, opacity: 1}, silent: true, large: false, animation: false});
  });
});

const chart = echarts.init(document.getElementById('chart'), null, {renderer: 'canvas'});
chart.setOption({animation: false, backgroundColor: '#fff', grid, xAxis, yAxis, title, series, tooltip: {show: false}});
</script>
</body>
</html>
